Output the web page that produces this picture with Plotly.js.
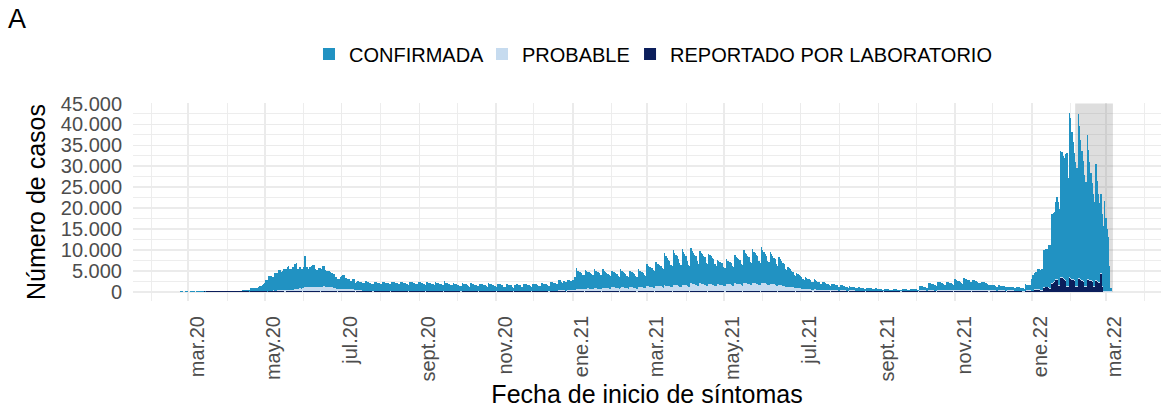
<!DOCTYPE html>
<html>
<head>
<meta charset="utf-8">
<script src="https://cdn.plot.ly/plotly-3.0.1.min.js"></script>
<style>html,body{margin:0;padding:0;background:#ffffff;}</style>
</head>
<body>
<div id="chart" style="width:1161px;height:413px;"></div>
<script>
// ---- Data (daily cases by symptom-onset date, starting 2020-02-24, one row = one week Mon..Sun) ----
const START_DATE = '2020-02-24';

const CONFIRMADA = [
120,150,100,0,130,160,0,
0,140,170,150,160,0,150,
180,160,100,110,140,90,120,
100,110,110,120,140,150,140,
130,130,120,140,140,170,160,
130,140,140,130,140,180,170,
140,150,140,170,150,200,210,
300,320,340,330,310,380,360,
700,720,740,770,750,780,980,
1220,1320,1570,1820,2020,2780,2780,
3520,3520,3370,3370,3320,4180,4180,
4020,4720,4720,4420,4420,4980,4980,
4920,5370,5670,5020,5020,5380,5380,
6120,6120,4820,4820,5020,4780,4680,
4820,7420,4720,4720,4420,4880,5080,
5120,5120,4320,3920,4020,4680,4680,
4120,4920,4820,3920,3820,3880,3780,
3620,3520,3420,3320,2620,2780,2480,
2520,3020,3020,3320,3320,2680,2680,
2320,2320,2020,2070,2370,2480,1680,
1920,2070,1920,1870,2120,1930,1830,
2320,2220,2020,1920,1820,1700,1700,
2220,2120,2020,1920,1820,1700,1600,
2120,2020,1920,1920,1820,1700,1700,
2220,2120,2020,1920,1820,1800,1700,
2120,2020,1920,1820,1820,1700,1600,
2120,2020,2020,1920,1820,1700,1700,
2220,2120,2020,1920,1720,1700,1600,
2020,1920,1920,1820,1720,1600,1500,
2120,1920,1820,1720,1620,1500,1500,
2320,1920,1820,1720,1620,1500,1400,
1820,1720,1620,1520,1420,1300,1200,
1820,1720,1620,1520,1420,1300,1100,
1820,1620,1520,1520,1420,1300,1200,
1720,1620,1520,1420,1320,1200,1100,
1820,1620,1520,1420,1320,1200,1100,
1620,1520,1520,1420,1320,1100,1000,
1620,1520,1420,1420,1320,1100,700,
1520,1620,1520,1420,1320,1100,1000,
1620,1520,1520,1420,1320,1200,1100,
1720,1620,1620,1520,1420,1300,1200,
1920,1820,1720,1620,1520,1400,1300,
2220,2120,2020,1920,1820,1700,1600,
2520,2370,2070,1720,2170,2080,1980,
2420,2320,2220,2120,2420,3180,3280,
4920,4220,4020,3920,3720,3480,3380,
4470,4070,3970,3920,3720,3580,3380,
4720,4220,4020,3870,3670,3430,3330,
4570,4070,3920,3720,3520,3280,3080,
4020,3720,3620,3570,3370,3030,2880,
4320,3920,3720,3570,3370,3030,2880,
3970,3770,3620,3420,3270,2930,2880,
4420,3920,3770,3570,3420,3080,2930,
5420,4970,4720,4620,4470,4230,3980,
5720,5370,5220,5020,4870,4580,4430,
7620,6970,6520,6220,5970,5280,5030,
8320,7570,7220,6920,6470,5530,5180,
8470,7820,7370,6970,5820,5230,4980,
8320,7820,7320,7020,6720,5780,5380,
7870,7370,7120,6870,6520,5530,5180,
7120,6920,6670,6420,6070,5180,4830,
5720,5570,5420,5220,5170,4580,4330,
5870,5620,5470,5370,5220,4730,4580,
6770,6420,6270,6120,5870,5230,4980,
7820,7320,6970,6720,6370,5580,5330,
8020,7470,7120,6870,6520,5730,5380,
8470,7820,7370,7020,6670,5780,5530,
7620,7070,6720,6370,6020,5080,4830,
6720,6170,5820,5470,5120,4330,4080,
4720,4470,4220,3970,3720,3180,3030,
3520,3370,3120,2920,2770,2430,2280,
2820,2670,2470,2320,2120,1880,1780,
2370,2170,2020,1820,1720,1430,1380,
1970,1770,1720,1520,1420,1230,1130,
1520,1420,1320,1270,1170,980,880,
1270,1170,1070,970,870,780,680,
1020,920,820,770,720,630,580,
920,820,770,720,670,600,550,
720,670,620,570,520,450,400,
570,520,470,420,370,350,300,
420,370,340,320,280,280,250,
370,340,320,300,270,270,250,
420,400,370,350,320,300,280,
520,500,470,420,400,360,320,
1120,1020,970,920,870,780,730,
1770,1670,1570,1470,1420,1280,1180,
2020,1920,1820,1720,1620,1430,1330,
2020,1920,1820,1720,1620,1430,1330,
2520,2320,2220,2120,2020,1730,1630,
2820,2620,2520,2420,2320,2030,1930,
2420,2320,2220,2120,2020,1830,1730,
2020,1920,1820,1720,1620,1430,1330,
1370,1270,1220,1170,1070,980,880,
1220,1120,1070,1020,970,880,830,
920,870,820,770,720,730,680,
920,820,770,720,620,630,580,
1550,1350,1250,1250,1150,2750,3750,
3750,4100,4100,4750,4850,4850,4950,
8900,8900,9000,9000,10100,10300,10300,
16400,16400,16400,18300,19600,19900,18300,
30050,29850,29250,28950,30150,31750,25850,
39250,38050,35150,32750,30250,29450,28050,
39250,36450,33150,30850,28650,26450,24850,
34450,30650,28050,25450,23350,22050,20250,
27650,23950,20950,18850,18850,17150,15550,
21450,17350,14750,12850,5850,850
];

const PROBABLE = [
0,0,0,0,0,0,0,
0,0,0,0,0,0,0,
0,0,0,0,0,0,0,
0,0,0,0,0,0,0,
0,0,0,0,0,0,0,
0,0,0,0,0,0,0,
0,0,0,0,0,0,0,
0,0,0,0,0,0,0,
0,0,0,0,0,0,0,
0,0,0,0,0,0,0,
100,100,150,150,200,200,200,
300,300,300,300,300,300,300,
300,350,350,400,400,400,400,
500,500,600,600,700,700,800,
900,1000,1000,1000,1000,1000,1000,
1100,1100,1100,1100,1000,1000,1000,
1100,1100,1200,1100,1100,1000,1000,
1000,900,900,800,700,600,600,
500,500,500,500,500,500,500,
500,500,500,450,450,400,400,
400,350,300,250,200,150,150,
100,100,100,100,100,80,80,
100,100,100,100,100,80,80,
100,100,100,100,100,80,80,
100,100,100,100,100,80,80,
100,100,100,100,100,80,80,
100,100,100,100,100,80,80,
100,100,100,100,100,80,80,
100,100,100,100,100,80,80,
100,100,100,100,100,80,80,
100,100,100,100,100,80,80,
100,100,100,100,100,80,80,
100,100,100,100,100,80,80,
100,100,100,100,100,80,80,
100,100,100,100,100,80,80,
100,100,100,100,100,80,80,
100,100,100,100,100,80,80,
100,100,100,100,100,80,80,
100,100,100,100,100,80,80,
100,100,100,100,100,80,80,
100,100,100,100,100,80,80,
100,100,100,100,100,80,80,
100,100,100,100,100,80,80,
200,250,250,200,250,200,200,
300,300,300,300,300,300,300,
600,600,600,600,600,500,500,
650,650,650,600,600,500,500,
700,700,700,650,650,550,550,
750,750,700,700,700,600,600,
900,900,900,850,850,750,700,
900,900,900,850,850,750,700,
950,950,900,900,850,750,700,
1000,1000,950,950,900,800,750,
1200,1150,1100,1100,1050,950,900,
1300,1250,1200,1200,1150,1000,950,
1400,1350,1300,1300,1250,1100,1050,
1500,1450,1400,1400,1350,1150,1100,
1550,1500,1450,1450,1300,1150,1100,
1900,1800,1700,1700,1600,1400,1300,
1850,1750,1700,1650,1600,1350,1300,
1800,1700,1650,1600,1550,1300,1250,
1700,1650,1600,1600,1550,1300,1250,
1750,1700,1650,1650,1600,1350,1300,
1850,1800,1750,1700,1650,1450,1400,
2000,1900,1850,1800,1750,1500,1450,
2000,1950,1900,1850,1800,1550,1500,
2050,2000,1950,1900,1850,1600,1550,
1800,1750,1700,1650,1600,1400,1350,
1500,1450,1400,1350,1300,1150,1100,
1100,1050,1000,950,900,800,750,
800,750,700,700,650,550,500,
600,550,550,500,500,400,400,
450,450,400,400,400,350,300,
350,350,300,300,300,250,250,
300,300,300,250,250,200,200,
250,250,250,250,250,200,200,
200,200,200,200,200,150,150,
100,100,100,100,100,80,80,
100,100,100,100,100,80,80,
100,100,100,100,100,80,80,
100,100,100,100,100,80,80,
100,100,100,100,100,80,80,
100,100,100,100,100,80,80,
100,100,100,100,100,80,80,
200,200,200,200,200,150,150,
250,250,250,250,250,200,200,
300,300,300,300,300,250,250,
300,300,300,300,300,250,250,
300,300,300,300,300,250,250,
300,300,300,300,300,250,250,
300,300,300,300,300,250,250,
300,300,300,300,300,250,250,
250,250,250,250,250,200,200,
200,200,200,200,200,150,150,
200,200,200,200,200,150,150,
200,200,200,200,200,150,150,
200,200,200,200,200,150,150,
200,200,200,200,200,200,200,
200,200,200,200,200,200,200,
200,200,200,200,200,200,200,
250,250,250,250,250,250,250,
250,250,250,250,250,250,250,
250,250,250,250,250,250,250,
250,250,250,250,250,250,250,
250,250,250,250,250,250,250,
250,250,250,250,250,150
];

const LABORATORIO = [
0,0,0,0,0,0,0,
0,0,0,0,0,0,0,
0,0,100,110,100,120,110,
150,160,150,160,150,120,120,
160,170,160,170,160,120,120,
170,170,180,170,170,120,120,
170,180,180,170,180,120,120,
180,190,180,170,180,120,110,
170,180,190,180,170,130,120,
180,190,180,170,180,120,110,
170,180,190,180,170,130,120,
180,190,180,170,180,120,110,
170,180,190,180,170,130,120,
180,190,180,170,180,120,110,
170,180,190,180,170,130,120,
180,190,180,170,180,120,110,
170,180,190,180,170,130,120,
180,190,180,170,180,120,110,
170,180,190,180,170,130,120,
180,190,180,170,180,120,110,
170,180,190,180,170,130,120,
180,190,180,170,180,120,110,
170,180,190,180,170,130,120,
180,190,180,170,180,120,110,
170,180,190,180,170,130,120,
180,190,180,170,180,120,110,
170,180,190,180,170,130,120,
180,190,180,170,180,120,110,
170,180,190,180,170,130,120,
180,190,180,170,180,120,110,
170,180,190,180,170,130,120,
180,190,180,170,180,120,110,
170,180,190,180,170,130,120,
180,190,180,170,180,120,110,
170,180,190,180,170,130,120,
180,190,180,170,180,120,110,
170,180,190,180,170,130,120,
180,190,180,170,180,120,110,
170,180,190,180,170,130,120,
180,190,180,170,180,120,110,
170,180,190,180,170,130,120,
180,190,180,170,180,120,110,
170,180,190,180,170,130,120,
180,190,180,170,180,120,110,
170,180,190,180,170,130,120,
180,190,180,170,180,120,110,
170,180,190,180,170,130,120,
180,190,180,170,180,120,110,
170,180,190,180,170,130,120,
180,190,180,170,180,120,110,
170,180,190,180,170,130,120,
180,190,180,170,180,120,110,
170,180,190,180,170,130,120,
180,190,180,170,180,120,110,
170,180,190,180,170,130,120,
180,190,180,170,180,120,110,
170,180,190,180,170,130,120,
180,190,180,170,180,120,110,
170,180,190,180,170,130,120,
180,190,180,170,180,120,110,
170,180,190,180,170,130,120,
180,190,180,170,180,120,110,
170,180,190,180,170,130,120,
180,190,180,170,180,120,110,
170,180,190,180,170,130,120,
180,190,180,170,180,120,110,
170,180,190,180,170,130,120,
180,190,180,170,180,120,110,
170,180,190,180,170,130,120,
180,190,180,170,180,120,110,
170,180,190,180,170,130,120,
180,190,180,170,180,120,110,
170,180,190,180,170,130,120,
180,190,180,170,180,120,110,
170,180,190,180,170,130,120,
180,190,180,170,180,120,110,
170,180,190,180,170,130,120,
180,190,180,170,180,120,110,
170,180,190,180,170,130,120,
180,190,180,170,180,120,110,
170,180,190,180,170,130,120,
180,190,180,170,180,120,110,
170,180,190,180,170,130,120,
180,190,180,170,180,120,110,
170,180,190,180,170,130,120,
180,190,180,170,180,120,110,
170,180,190,180,170,130,120,
180,190,180,170,180,120,110,
170,180,190,180,170,130,120,
180,190,180,170,180,120,110,
170,180,190,180,170,130,120,
180,190,180,170,180,120,110,
170,180,190,180,170,130,120,
180,190,180,170,180,120,110,
170,180,190,180,170,130,120,
150,150,150,150,150,100,100,
150,200,200,250,250,150,150,
500,500,500,500,500,300,300,
1000,1000,1100,1100,1000,700,700,
2000,2200,2500,2900,2900,1500,1400,
3300,3300,3000,2900,2600,1300,1200,
3300,3200,2900,2800,2600,1300,1200,
3000,3000,2800,2600,2400,1200,1100,
2900,2900,2700,2600,2400,1100,1100,
2600,2400,2200,2100,4300,1300
];

const SERIES_NAMES = ['CONFIRMADA', 'PROBABLE', 'REPORTADO POR LABORATORIO'];
const SERIES_COLORS = ['#2192c2', '#c6dbef', '#0b1e5b'];

const TICK_DATES = ['2020-03-01','2020-05-01','2020-07-01','2020-09-01','2020-11-01','2021-01-01',
                    '2021-03-01','2021-05-01','2021-07-01','2021-09-01','2021-11-01','2022-01-01','2022-03-01'];
const TICK_LABELS = ['mar.20','may.20','jul.20','sept.20','nov.20','ene.21',
                     'mar.21','may.21','jul.21','sept.21','nov.21','ene.22','mar.22'];
const MINOR_GRID_DATES = ['2020-02-01','2020-04-01','2020-06-01','2020-08-01','2020-10-01','2020-12-01',
                          '2021-02-01','2021-04-01','2021-06-01','2021-08-01','2021-10-01','2021-12-01',
                          '2022-02-01','2022-04-01'];

const SHADE_START = '2022-02-04 12:00';
const SHADE_END = '2022-03-06 12:00';

// ---- Build date categories ----
function dayList(start, n) {
  const out = [];
  const t0 = Date.parse(start + 'T00:00:00Z');
  for (let i = 0; i < n; i++) out.push(new Date(t0 + i * 86400000).toISOString().slice(0, 10));
  return out;
}
const DATES = dayList(START_DATE, CONFIRMADA.length);
if (PROBABLE.length !== CONFIRMADA.length || LABORATORIO.length !== CONFIRMADA.length) {
  console.error('length mismatch', CONFIRMADA.length, PROBABLE.length, LABORATORIO.length);
}

const DAY_MS = 86400000;
function barTrace(name, y, color, legendId) {
  return {type: 'bar', name: name, x: DATES, y: y, width: DAY_MS, legend: legendId,
          marker: {color: color, line: {width: 0}}, hoverinfo: 'skip'};
}
const data = [
  barTrace(SERIES_NAMES[2], LABORATORIO, SERIES_COLORS[2], 'legend3'),
  barTrace(SERIES_NAMES[1], PROBABLE, SERIES_COLORS[1], 'legend2'),
  barTrace(SERIES_NAMES[0], CONFIRMADA, SERIES_COLORS[0], 'legend')
];

function legendAt(xPaper) {
  return {orientation: 'h', x: xPaper, xanchor: 'left', y: 1.247, yanchor: 'middle',
          font: {size: 20, color: '#000000'}, bgcolor: 'rgba(0,0,0,0)', borderwidth: 0};
}

const GRID = '#ebebeb';
const layout = {
  width: 1161, height: 413,
  margin: {l: 133, r: 0, t: 103, b: 112, pad: 0},
  paper_bgcolor: '#ffffff', plot_bgcolor: '#ffffff',
  font: {family: '"Liberation Sans", Arial, sans-serif', color: '#000000', size: 20},
  separators: ',.',
  barmode: 'stack', bargap: 0,
  showlegend: true,
  legend: legendAt(0.1712),
  legend2: legendAt(0.3395),
  legend3: legendAt(0.4835),
  title: {text: 'A', x: 8 / 1161, xanchor: 'left', xref: 'container', y: 1 - 19 / 413, yref: 'container',
          yanchor: 'middle', font: {size: 27, color: '#000000'}},
  xaxis: {
    type: 'date', range: ['2020-01-17 03:00', '2022-04-13 18:00'],
    tickmode: 'array', tickvals: TICK_DATES, ticktext: TICK_LABELS, tickangle: -90,
    ticks: '', ticklabelshift: 9, ticklabelstandoff: 10,
    tickfont: {size: 20, color: '#4d4d4d'},
    showgrid: true, gridcolor: GRID, gridwidth: 1.7,
    minor: {tickmode: 'array', tickvals: MINOR_GRID_DATES, showgrid: true, gridcolor: GRID, gridwidth: 0.9, ticks: ''},
    zeroline: false, showline: false, automargin: false,
    title: {text: 'Fecha de inicio de síntomas', font: {size: 25, color: '#000000'}, standoff: 0}
  },
  yaxis: {
    range: [-2150, 45120], tickmode: 'linear', tick0: 0, dtick: 5000, tickformat: ',d',
    ticks: '', ticklabelstandoff: 10,
    tickfont: {size: 20, color: '#4d4d4d'},
    showgrid: true, gridcolor: GRID, gridwidth: 1.7,
    minor: {tickmode: 'linear', tick0: 2500, dtick: 5000, showgrid: true, gridcolor: GRID, gridwidth: 0.9, ticks: ''},
    zeroline: false, showline: false, automargin: false,
    title: {text: 'Número de casos', font: {size: 25, color: '#000000'}, standoff: 8}
  },
  shapes: [{type: 'rect', xref: 'x', yref: 'y', x0: SHADE_START, x1: SHADE_END, y0: 0, y1: 45000,
            fillcolor: 'rgba(128,128,128,0.26)', line: {width: 0}, layer: 'between'}]
};

Plotly.newPlot('chart', data, layout, {staticPlot: true, displayModeBar: false});
</script>
</body>
</html>
